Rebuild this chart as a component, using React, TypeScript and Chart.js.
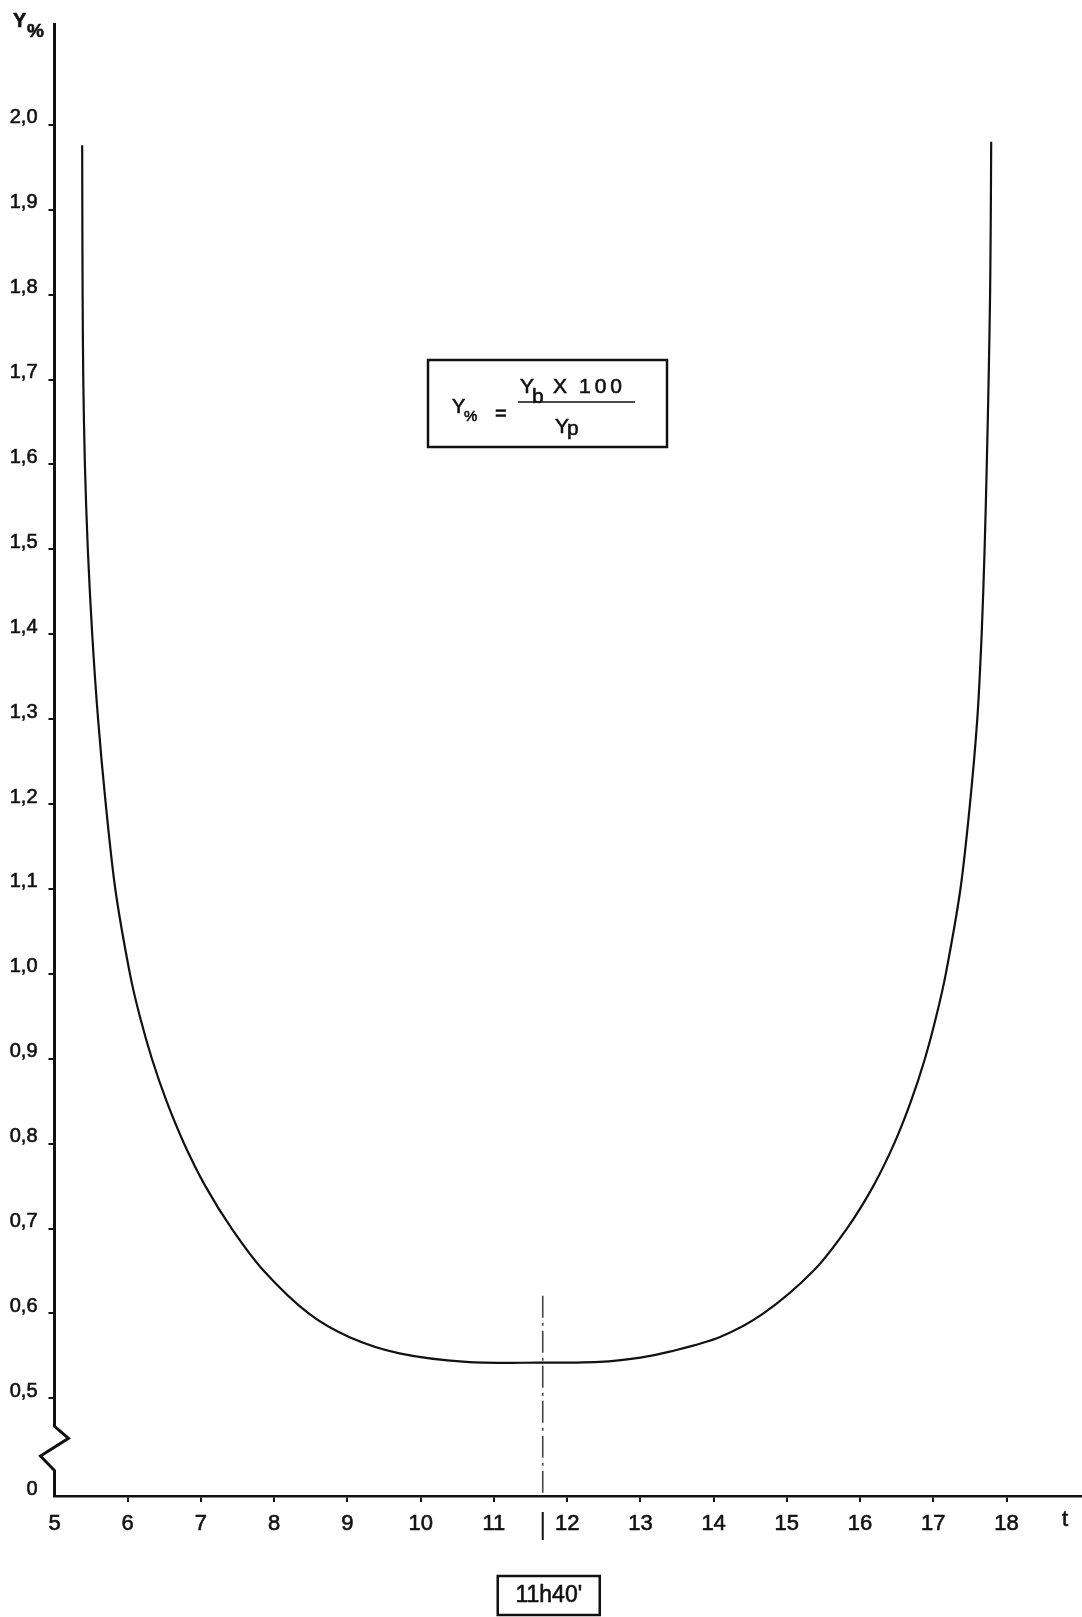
import React, { useEffect, useRef } from "react";
import { Chart, registerables } from "chart.js";

Chart.register(...registerables);

// time of day (hours)
const HOURS = [
  5.378, 5.38, 5.384, 5.393, 5.415, 5.455, 5.515, 5.595, 5.7, 5.83, 6.03, 6.165,
  6.33, 6.53, 6.77, 7.06, 7.42, 7.86, 8.47, 9.03, 9.71, 10.62, 11.62, 12.44, 13.0,
  13.4, 14.08, 14.68, 15.36, 15.82, 16.18, 16.465, 16.695, 16.885, 17.04, 17.17,
  17.37, 17.5, 17.6, 17.66, 17.7, 17.73, 17.755, 17.775, 17.785, 17.79,
];
// Y %  = Yb x 100 / Yp
const RATIO = [
  1.976, 1.9, 1.8, 1.7, 1.6, 1.5, 1.4, 1.3, 1.2, 1.1, 1.0, 0.95, 0.9, 0.85, 0.8,
  0.75, 0.7, 0.65, 0.6, 0.572, 0.553, 0.543, 0.542, 0.543, 0.548, 0.555, 0.572,
  0.6, 0.65, 0.7, 0.75, 0.8, 0.85, 0.9, 0.95, 1.0, 1.1, 1.2, 1.3, 1.4, 1.5, 1.6,
  1.7, 1.8, 1.9, 1.98,
];
const X_TICKS = [5, 6, 7, 8, 9, 10, 11, 12, 13, 14, 15, 16, 17, 18];
const Y_TICKS = [0.5, 0.6, 0.7, 0.8, 0.9, 1.0, 1.1, 1.2, 1.3, 1.4, 1.5, 1.6, 1.7, 1.8, 1.9, 2.0];
const X_MIN = 5;
const X_MAX = 19.03;
const Y_ZERO = 0.385; // broken axis: shown as "0"
const Y_TOP = 2.12;
const AXIS_BREAK = [0.467, 0.453, 0.432, 0.415];
const MARK_T = 11 + 40 / 60;
const MARK_TOP = 0.621;
const MARK_LABEL = "11h40'";
const X_TITLE = "t";
const X_TITLE_POS = 18.8;

const FONT = '"Liberation Sans", Arial, sans-serif';
const INK = "#111";

function txt(ctx: CanvasRenderingContext2D, s: string, x: number, y: number) {
  ctx.strokeText(s, x, y);
  ctx.fillText(s, x, y);
}

export default function App() {
  const ref = useRef<HTMLCanvasElement | null>(null);

  useEffect(() => {
    if (!ref.current) return;

    const decor = {
      id: "decor",
      afterDraw(chart: any) {
        const ctx = chart.ctx as CanvasRenderingContext2D;
        const xs = chart.scales.x;
        const ys = chart.scales.y;
        const ax = chart.chartArea.left;
        ctx.save();
        ctx.strokeStyle = INK;
        ctx.fillStyle = INK;
        ctx.lineCap = "butt";
        ctx.lineJoin = "miter";

        // y axis with break
        ctx.lineWidth = 3;
        ctx.beginPath();
        ctx.moveTo(ax, chart.chartArea.top);
        ctx.lineTo(ax, ys.getPixelForValue(AXIS_BREAK[0]));
        ctx.lineTo(ax + 14, ys.getPixelForValue(AXIS_BREAK[1]));
        ctx.lineTo(ax - 14, ys.getPixelForValue(AXIS_BREAK[2]));
        ctx.lineTo(ax, ys.getPixelForValue(AXIS_BREAK[3]));
        ctx.lineTo(ax, chart.chartArea.bottom + 1);
        ctx.stroke();

        // marker tail below axis
        const mx = xs.getPixelForValue(MARK_T);
        const b = chart.chartArea.bottom;
        ctx.lineWidth = 2;
        ctx.beginPath();
        ctx.moveTo(mx, b + 16);
        ctx.lineTo(mx, b + 44);
        ctx.stroke();
        ctx.lineWidth = 2.5;
        ctx.strokeRect(mx - 45, b + 80, 102, 39);

        // formula box frame and fraction bar
        const fx = 428;
        const fy = 360;
        ctx.lineWidth = 2.5;
        ctx.strokeRect(fx, fy, 239, 87);
        ctx.lineWidth = 1.6;
        ctx.beginPath();
        ctx.moveTo(fx + 90, fy + 42);
        ctx.lineTo(fx + 207, fy + 42);
        ctx.stroke();

        // texts (slightly stroked for a heavier print look)
        ctx.lineWidth = 0.6;
        ctx.textBaseline = "alphabetic";
        ctx.textAlign = "left";
        ctx.font = `bold 20px ${FONT}`;
        txt(ctx, "Y", 13, 27);
        ctx.font = `bold 19px ${FONT}`;
        txt(ctx, "%", 27, 37);

        ctx.font = `22px ${FONT}`;
        ctx.textAlign = "center";
        txt(ctx, X_TITLE, xs.getPixelForValue(X_TITLE_POS), b + 30);

        ctx.font = `23px ${FONT}`;
        ctx.textBaseline = "middle";
        txt(ctx, MARK_LABEL, mx + 6, b + 100);

        ctx.textAlign = "left";
        ctx.textBaseline = "alphabetic";
        ctx.font = `20px ${FONT}`;
        txt(ctx, "Y", fx + 24, fy + 53);
        ctx.font = `15px ${FONT}`;
        txt(ctx, "%", fx + 36, fy + 61);
        ctx.font = `20px ${FONT}`;
        txt(ctx, "=", fx + 67, fy + 60);
        ctx.font = `21px ${FONT}`;
        txt(ctx, "Y", fx + 92, fy + 33);
        txt(ctx, "b", fx + 104, fy + 43);
        (ctx as any).letterSpacing = "4px";
        txt(ctx, "X", fx + 125, fy + 33);
        txt(ctx, "100", fx + 151, fy + 33);
        (ctx as any).letterSpacing = "0px";
        txt(ctx, "Y", fx + 127, fy + 73);
        txt(ctx, "p", fx + 139, fy + 75);
        ctx.restore();
      },
    };

    const chart = new Chart(ref.current, {
      type: "scatter",
      data: {
        datasets: [
          {
            data: HOURS.map((t, i) => ({ x: t, y: RATIO[i] })),
            showLine: true,
            borderColor: INK,
            borderWidth: 2.2,
            pointRadius: 0,
            tension: 0.3,
          },
          {
            data: [
              { x: MARK_T, y: MARK_TOP },
              { x: MARK_T, y: Y_ZERO },
            ],
            showLine: true,
            borderColor: "#444",
            borderWidth: 1.6,
            borderDash: [22, 5, 3, 5],
            pointRadius: 0,
          },
        ],
      },
      options: {
        responsive: false,
        maintainAspectRatio: false,
        animation: false,
        devicePixelRatio: 1,
        layout: { padding: { top: 23, left: 0, right: 0, bottom: 0 } },
        plugins: { legend: { display: false }, tooltip: { enabled: false } },
        scales: {
          x: {
            type: "linear",
            min: X_MIN,
            max: X_MAX,
            afterBuildTicks: (s: any) => {
              s.ticks = X_TICKS.map((v) => ({ value: v }));
            },
            afterFit: (s: any) => {
              s.height = 121;
              s.paddingLeft = 0;
              s.paddingRight = 0;
            },
            ticks: {
              autoSkip: false,
              maxRotation: 0,
              padding: 9,
              color: INK,
              textStrokeColor: INK,
              textStrokeWidth: 0.6,
              font: { family: FONT, size: 22 },
              callback: (v: any) => String(v),
            },
            grid: {
              drawOnChartArea: false,
              drawTicks: true,
              tickLength: 6,
              lineWidth: 2,
              color: (c: any) => (c.tick && c.tick.value === X_MIN ? "rgba(0,0,0,0)" : INK),
            },
            border: { display: true, color: INK, width: 2.5 },
          },
          y: {
            type: "linear",
            min: Y_ZERO,
            max: Y_TOP,
            afterBuildTicks: (s: any) => {
              s.ticks = [Y_ZERO, ...Y_TICKS].map((v) => ({ value: v }));
            },
            afterFit: (s: any) => {
              s.width = 54.5;
              s.paddingTop = 0;
              s.paddingBottom = 0;
            },
            ticks: {
              autoSkip: false,
              padding: 11,
              labelOffset: -7,
              color: INK,
              textStrokeColor: INK,
              textStrokeWidth: 0.6,
              font: { family: FONT, size: 20 },
              callback: (v: any) => (v === Y_ZERO ? "0" : Number(v).toFixed(1).replace(".", ",")),
            },
            grid: {
              drawOnChartArea: false,
              drawTicks: true,
              tickLength: 6,
              lineWidth: 2,
              color: (c: any) => (c.tick && c.tick.value === Y_ZERO ? "rgba(0,0,0,0)" : INK),
            },
            border: { display: false },
          },
        },
      },
      plugins: [decor],
    } as any);

    return () => chart.destroy();
  }, []);

  return (
    <div style={{ position: "absolute", left: 0, top: 0, width: 1082, height: 1617, background: "#fff" }}>
      <canvas ref={ref} width={1082} height={1617} style={{ display: "block" }} />
    </div>
  );
}
